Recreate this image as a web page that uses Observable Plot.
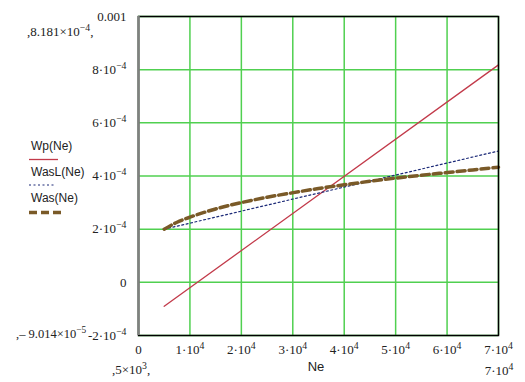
<!DOCTYPE html>
<html><head><meta charset="utf-8">
<script src="https://cdn.jsdelivr.net/npm/d3@7"></script>
<script src="https://cdn.jsdelivr.net/npm/@observablehq/plot@0.6"></script>
<style>body{margin:0;background:#fff} #chart{width:525px;height:382px}
#chart svg text, #chart svg tspan{font-family:"Liberation Serif","DejaVu Serif",serif !important}
#chart svg text.sans, #chart svg text.sans tspan{font-family:"Liberation Sans","DejaVu Sans",sans-serif !important}
</style>
</head><body><div id="chart"></div>
<script>
// ---- data ----
const neWp = [5000, 70000];
const wp = [-9.014e-5, 8.181e-4];
const neWasL = [5000, 70000];
const wasL = [2.0e-4, 4.94e-4];
const neWas = [5000, 7500, 10000, 15000, 20000, 25000, 30000, 35000, 40000, 45000, 50000, 55000, 60000, 65000, 70000];
const was = [2.0e-4, 2.26e-4, 2.45e-4, 2.76e-4, 3.0e-4, 3.2e-4, 3.37e-4, 3.53e-4, 3.67e-4, 3.8e-4, 3.92e-4, 4.03e-4, 4.13e-4, 4.23e-4, 4.33e-4];
const xTicks = [0, 10000, 20000, 30000, 40000, 50000, 60000, 70000];
const xTickLabels = ["0", "1·10^4", "2·10^4", "3·10^4", "4·10^4", "5·10^4", "6·10^4", "7·10^4"];
const yTicks = [-2e-4, 0, 2e-4, 4e-4, 6e-4, 8e-4, 1e-3];
const yTickLabels = ["-2·10^−4", "0", "2·10^−4", "4·10^−4", "6·10^−4", "8·10^−4", "0.001"];
const seriesNames = ["Wp(Ne)", "WasL(Ne)", "Was(Ne)"];
const xLabel = "Ne";
const yMaxLabel = ",8.181×10^−4,";
const yMinLabel = ",– 9.014×10^−5";
const xMinLabel = ",5×10^3,";
const xMaxLabel = "7·10^4";

const colors = {wp: "#c23a4a", wasL: "#1c2a78", was: "#7a5a28"};
const grid = "#50d050";

const rows = (xs, ys) => xs.map((x, i) => ({x, y: ys[i]}));

const chart = Plot.plot({
  width: 525, height: 382,
  marginLeft: 138, marginRight: 27, marginTop: 16, marginBottom: 47,
  style: {fontSize: "13px", background: "#fff", color: "#222", fontFamily: "Liberation Serif"},
  x: {domain: [0, 70000], ticks: xTicks, tickSize: 0, tickPadding: 9,
      tickFormat: d => xTickLabels[xTicks.indexOf(d)], label: null},
  y: {domain: [-2e-4, 1e-3], ticks: yTicks, tickSize: 0, tickPadding: 12,
      tickFormat: d => yTickLabels[yTicks.indexOf(d)], label: null},
  marks: [
    Plot.gridX(xTicks, {stroke: grid, strokeOpacity: 1, strokeWidth: 1.5}),
    Plot.gridY(yTicks, {stroke: grid, strokeOpacity: 1, strokeWidth: 1.5}),
    Plot.line(rows(neWp, wp), {x: "x", y: "y", stroke: colors.wp, strokeWidth: 1.3}),
    Plot.line(rows(neWasL, wasL), {x: "x", y: "y", stroke: colors.wasL, strokeWidth: 1.2, strokeDasharray: "2,2.5"}),
    Plot.line(rows(neWas, was), {x: "x", y: "y", curve: "monotone-x", stroke: colors.was, strokeWidth: 3.5, strokeDasharray: "8,4"}),
    Plot.frame({stroke: "#000", strokeWidth: 1.5}),
    Plot.ruleX([0], {stroke: "#808080", strokeWidth: 2.5})
  ]
});
document.getElementById("chart").appendChild(chart);

const ns = "http://www.w3.org/2000/svg";
function fillSup(t, s) {
  t.textContent = "";
  const parts = s.split(/(\^[^,]*)/).filter(p => p.length);
  let raised = false;
  parts.forEach(p => {
    const ts = document.createElementNS(ns, "tspan");
    if (p.startsWith("^")) {
      ts.textContent = p.slice(1);
      ts.setAttribute("dy", "-0.5em");
      ts.setAttribute("font-size", "0.75em");
      raised = true;
    } else {
      ts.textContent = p;
      if (raised) { ts.setAttribute("dy", "0.38em"); raised = false; }
    }
    t.appendChild(ts);
  });
}
chart.querySelectorAll("text").forEach(t => {
  if (t.textContent.includes("^")) fillSup(t, t.textContent);
});

const svg = d3.select(chart);
function addText(str, x, y, opts = {}) {
  const t = svg.append("text").attr("x", x).attr("y", y)
    .attr("font-size", opts.size || 13)
    .attr("text-anchor", opts.anchor || "start")
    .attr("fill", "#222");
  if (opts.sans) t.attr("class", "sans");
  fillSup(t.node(), str);
  return t;
}
addText(yMaxLabel, 27, 36);
addText(yMinLabel, 16, 338, {size: 12.5});
addText(xMinLabel, 112, 374);
addText(xMaxLabel, 499, 375, {anchor: "middle"});
addText(xLabel, 316, 371, {sans: true, size: 13, anchor: "middle"});

// legend
const leg = [
  {name: seriesNames[0], ty: 150, ly: 159.5, c: colors.wp, w: 1.3, dash: null, x2: 58},
  {name: seriesNames[1], ty: 176, ly: 185, c: colors.wasL, w: 1.2, dash: "2,2.5", x2: 56},
  {name: seriesNames[2], ty: 202, ly: 212.5, c: colors.was, w: 3.5, dash: "8,4", x2: 61}
];
leg.forEach(d => {
  addText(d.name, 31, d.ty, {sans: true, size: 12});
  const l = svg.append("line").attr("x1", 29).attr("x2", d.x2).attr("y1", d.ly).attr("y2", d.ly)
    .attr("stroke", d.c).attr("stroke-width", d.w);
  if (d.dash) l.attr("stroke-dasharray", d.dash);
});
</script>
</body></html>
